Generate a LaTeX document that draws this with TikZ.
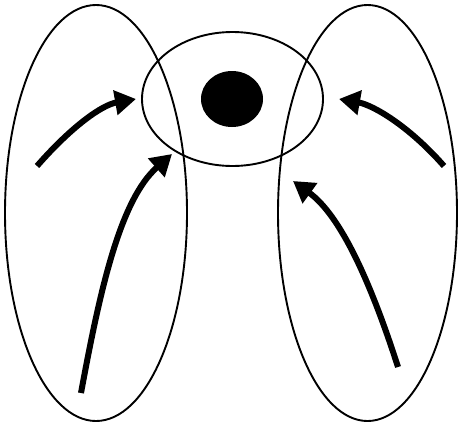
\documentclass[tikz,border=0pt]{standalone}
\usetikzlibrary{arrows.meta,shapes.geometric}
\begin{document}
\begin{tikzpicture}[x=1pt,y=-1pt,
  ring/.style={draw=black,line width=1.9pt},
  flow/.style={line width=6pt,-{Triangle[length=21pt,width=24pt]}}]
\useasboundingbox (0,0) rectangle (462,426);
\node[ring,ellipse,minimum width=182pt,minimum height=416pt,inner sep=0pt] (L) at (96,213) {};
\node[ring,ellipse,minimum width=179pt,minimum height=416pt,inner sep=0pt] (R) at (367.5,213) {};
\node[ring,ellipse,minimum width=181pt,minimum height=134pt,inner sep=0pt] (M) at (232.5,99) {};
\node[fill=black,ellipse,minimum width=62pt,minimum height=56pt,inner sep=0pt] (B) at (232,99) {};
\coordinate (a1s) at (37,166);  \coordinate (a1e) at (136,99);
\coordinate (a2s) at (81,393);  \coordinate (a2e) at (172,154);
\coordinate (a3s) at (444,166); \coordinate (a3e) at (339,99);
\coordinate (a4s) at (398,367); \coordinate (a4e) at (293,181);
\draw[flow] (a1s) .. controls (72,126) and (102,105) .. (a1e);
\draw[flow] (a2s) .. controls (100,290) and (120,200) .. (a2e);
\draw[flow] (a3s) .. controls (409,126) and (373,105) .. (a3e);
\draw[flow] (a4s) .. controls (370,280) and (340,215) .. (a4e);
\end{tikzpicture}
\end{document}
